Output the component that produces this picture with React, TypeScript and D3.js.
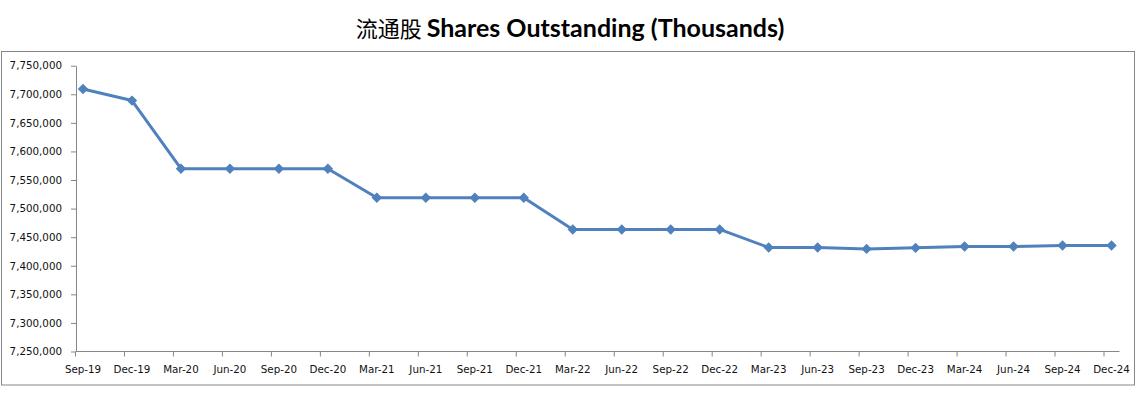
import React, { useEffect, useRef } from "react";
import * as d3 from "d3";

const quarters = [
  "Sep-19", "Dec-19", "Mar-20", "Jun-20", "Sep-20", "Dec-20", "Mar-21", "Jun-21",
  "Sep-21", "Dec-21", "Mar-22", "Jun-22", "Sep-22", "Dec-22", "Mar-23", "Jun-23",
  "Sep-23", "Dec-23", "Mar-24", "Jun-24", "Sep-24", "Dec-24",
];

// thousands of shares
const sharesOutstanding = [
  7709300, 7689000, 7569800, 7569800, 7569800, 7569800, 7518900, 7518900,
  7518900, 7518900, 7463500, 7463500, 7463500, 7463500, 7432000, 7432000,
  7429500, 7431300, 7433700, 7433700, 7435500, 7435500,
];

const yTickValues = [
  7250000, 7300000, 7350000, 7400000, 7450000, 7500000,
  7550000, 7600000, 7650000, 7700000, 7750000,
];

const W = 1143;
const H = 395;
const axisColor = "#868686";
const lineColor = "#4F81BD";

const SharesChart = () => {
  const svgRef = useRef<SVGSVGElement>(null);

  useEffect(() => {
    const svg = d3.select(svgRef.current);
    svg.selectAll("*").remove();

    const plot = { left: 76, right: 1119.5, top: 65.7, bottom: 351.5 };

    const x = d3.scalePoint<string>().domain(quarters).range([83, 1111.5]);
    const y = d3
      .scaleLinear()
      .domain([7250000, 7750000])
      .range([plot.bottom, plot.top]);

    // outer frame
    svg
      .append("rect")
      .attr("x", 1.5)
      .attr("y", 51.5)
      .attr("width", 1133)
      .attr("height", 333.5)
      .attr("fill", "#fff")
      .attr("stroke", axisColor)
      .attr("stroke-width", 1);

    // title
    const title = svg
      .append("text")
      .attr("x", 570)
      .attr("y", 37)
      .attr("text-anchor", "middle")
      .attr("fill", "#000");
    title
      .append("tspan")
      .attr("font-family", "'Noto Sans CJK SC'")
      .attr("font-size", 22)
      .text("流通股 ");
    title
      .append("tspan")
      .attr("font-family", "Lato, 'Open Sans', sans-serif")
      .attr("font-weight", "bold")
      .attr("font-size", 25)
      .text("Shares Outstanding (Thousands)");

    // y axis
    const yAxis = d3
      .axisLeft(y)
      .tickValues(yTickValues)
      .tickSize(5)
      .tickSizeOuter(0)
      .tickPadding(9)
      .tickFormat((d) => d3.format(",")(d as number));
    const gy = svg
      .append("g")
      .attr("transform", `translate(${plot.left},0)`)
      .call(yAxis);
    gy.selectAll("path, line").attr("stroke", axisColor);
    gy.selectAll("text")
      .attr("font-family", "'DejaVu Sans', sans-serif")
      .attr("font-size", 10.3)
      .attr("fill", "#111");

    // x axis (tick marks sit slightly left of the category points)
    const gx = svg.append("g");
    gx.append("line")
      .attr("x1", plot.left)
      .attr("x2", plot.right)
      .attr("y1", plot.bottom)
      .attr("y2", plot.bottom)
      .attr("stroke", axisColor);
    gx.selectAll(".xtick")
      .data(quarters)
      .enter()
      .append("line")
      .attr("x1", (d) => (x(d) as number) - 7.5)
      .attr("x2", (d) => (x(d) as number) - 7.5)
      .attr("y1", plot.bottom)
      .attr("y2", plot.bottom + 5)
      .attr("stroke", axisColor);
    gx.selectAll(".xlabel")
      .data(quarters)
      .enter()
      .append("text")
      .attr("x", (d) => x(d) as number)
      .attr("y", 373)
      .attr("text-anchor", "middle")
      .attr("font-family", "'DejaVu Sans', sans-serif")
      .attr("font-size", 10.3)
      .attr("fill", "#111")
      .text((d) => d);

    // line
    const line = d3
      .line<number>()
      .x((_, i) => x(quarters[i]) as number)
      .y((d) => y(d));

    svg
      .append("path")
      .datum(sharesOutstanding)
      .attr("fill", "none")
      .attr("stroke", lineColor)
      .attr("stroke-width", 3)
      .attr("stroke-linejoin", "round")
      .attr("d", line);

    const diamond = d3.symbol().type(d3.symbolSquare).size(40);
    svg
      .selectAll(".marker")
      .data(sharesOutstanding)
      .enter()
      .append("path")
      .attr("d", diamond)
      .attr(
        "transform",
        (d, i) => `translate(${x(quarters[i])},${y(d)}) rotate(45)`
      )
      .attr("fill", lineColor)
      .attr("stroke", lineColor)
      .attr("stroke-width", 1);
  }, []);

  return (
    <svg
      ref={svgRef}
      width={W}
      height={H}
      style={{ position: "absolute", left: 0, top: 0, background: "#fff" }}
    />
  );
};

export default function App() {
  return <SharesChart />;
}
